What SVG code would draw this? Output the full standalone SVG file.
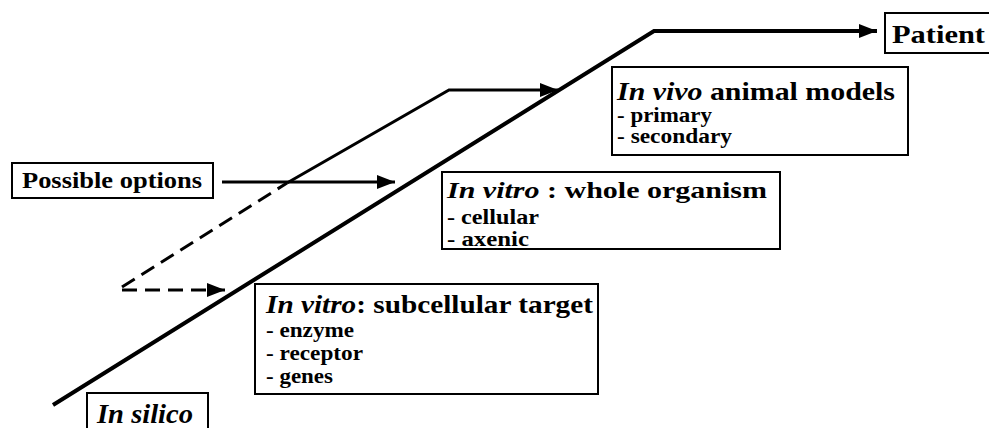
<svg xmlns="http://www.w3.org/2000/svg" width="989" height="428" viewBox="0 0 989 428">
<style>
.box{fill:#fff;stroke:#000;stroke-width:2}
text{font-family:"Liberation Serif",serif;font-weight:bold;fill:#000}
.it{font-style:italic}
.title{font-size:25px}
.item{font-size:20px}
.ln{fill:none;stroke:#000;stroke-width:3}
.main{fill:none;stroke:#000;stroke-width:4}
.dash{stroke-dasharray:15 8}
</style>
<defs>
<marker id="ah" viewBox="0 0 18 14" refX="18" refY="7" markerWidth="18" markerHeight="14" markerUnits="userSpaceOnUse" orient="auto">
<path d="M0,0 L18,7 L0,14 Z" fill="#000"/>
</marker>
</defs>
<g id="connectors">
<path class="main" d="M53,405 L654,31 L877,31" marker-end="url(#ah)"/>
<path class="ln" d="M222,182 L395,182" marker-end="url(#ah)"/>
<path class="ln dash" d="M122,287 L287,183"/>
<path class="ln" d="M287,183 L449,90 L558,90" marker-end="url(#ah)"/>
<path class="ln dash" d="M122,290 L225,290" marker-end="url(#ah)"/>
</g>
<g id="patient">
<rect class="box" x="885" y="13" width="110" height="40"/>
<text class="title" x="892" y="43" textLength="93" lengthAdjust="spacingAndGlyphs">Patient</text>
</g>
<g id="options">
<rect class="box" x="12" y="163" width="201" height="35"/>
<text style="font-size:24px" x="22" y="188" textLength="180" lengthAdjust="spacingAndGlyphs">Possible options</text>
</g>
<g id="insilico">
<rect class="box" x="87" y="393" width="121" height="40"/>
<text class="it" style="font-size:27px" x="97" y="423" textLength="96" lengthAdjust="spacingAndGlyphs">In silico</text>
</g>
<g id="subcellular">
<rect class="box" x="255" y="284" width="343" height="110"/>
<text class="title" x="266" y="313" textLength="327" lengthAdjust="spacingAndGlyphs"><tspan class="it">In vitro</tspan>: subcellular target</text>
<text class="item" x="266" y="337" textLength="88" lengthAdjust="spacingAndGlyphs">- enzyme</text>
<text class="item" x="266" y="360" textLength="97" lengthAdjust="spacingAndGlyphs">- receptor</text>
<text class="item" x="266" y="383" textLength="67" lengthAdjust="spacingAndGlyphs">- genes</text>
</g>
<g id="wholeorganism">
<rect class="box" x="442" y="172" width="338" height="77"/>
<text class="title" style="font-size:24px" x="447" y="198" textLength="320" lengthAdjust="spacingAndGlyphs"><tspan class="it">In vitro</tspan> : whole organism</text>
<text class="item" x="447" y="224" textLength="92" lengthAdjust="spacingAndGlyphs">- cellular</text>
<text class="item" x="447" y="246" textLength="82" lengthAdjust="spacingAndGlyphs">- axenic</text>
</g>
<g id="invivo">
<rect class="box" x="612" y="67" width="296" height="88"/>
<text class="title" x="617" y="100" textLength="278" lengthAdjust="spacingAndGlyphs"><tspan class="it">In vivo</tspan> animal models</text>
<text class="item" x="617" y="122" textLength="95" lengthAdjust="spacingAndGlyphs">- primary</text>
<text class="item" x="617" y="143" textLength="115" lengthAdjust="spacingAndGlyphs">- secondary</text>
</g>
</svg>
